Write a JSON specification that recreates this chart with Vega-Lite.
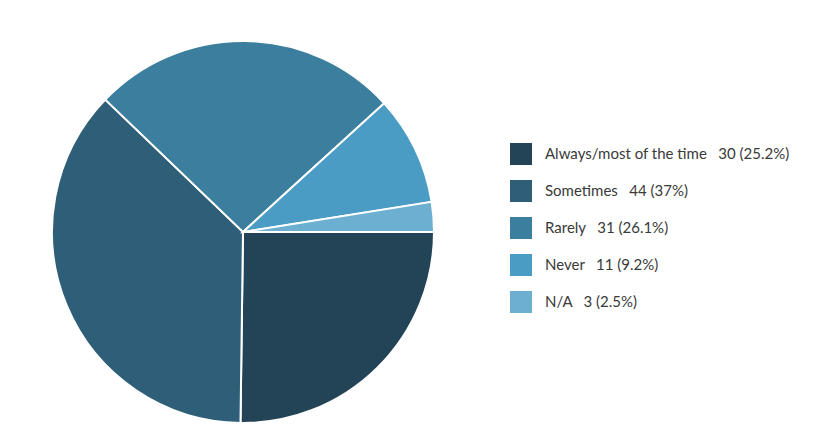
{
  "$schema": "https://vega.github.io/schema/vega-lite/v6.json",
  "width": 382,
  "height": 382,
  "padding": {"left": 52, "top": 41, "right": 402, "bottom": 13},
  "autosize": {"type": "none"},
  "background": "white",
  "config": {"view": {"stroke": null}, "font": "Lato"},
  "data": {
    "values": [
      {"category": "Always/most of the time", "count": 30, "pct": "25.2%", "rank": 1},
      {"category": "Sometimes", "count": 44, "pct": "37%", "rank": 2},
      {"category": "Rarely", "count": 31, "pct": "26.1%", "rank": 3},
      {"category": "Never", "count": 11, "pct": "9.2%", "rank": 4},
      {"category": "N/A", "count": 3, "pct": "2.5%", "rank": 5}
    ]
  },
  "transform": [
    {"calculate": "datum.category + '\u00a0\u00a0\u00a0' + datum.count + ' (' + datum.pct + ')'", "as": "legendLabel"}
  ],
  "mark": {"type": "arc", "stroke": "white", "strokeWidth": 2},
  "encoding": {
    "theta": {"field": "count", "type": "quantitative", "stack": true, "scale": {"range": [1.5708, 7.8540]}},
    "order": {"field": "rank", "type": "quantitative"},
    "color": {
      "field": "legendLabel",
      "type": "nominal",
      "sort": {"field": "rank"},
      "scale": {"range": ["#234357", "#2f5f78", "#3b7e9d", "#4b9cc5", "#6cafd1"]},
      "legend": {
        "title": null,
        "orient": "none",
        "legendX": 458,
        "legendY": 102,
        "padding": 0,
        "symbolType": "square",
        "symbolSize": 484,
        "symbolStrokeWidth": 0,
        "labelFont": "Lato",
        "labelFontSize": 15,
        "labelColor": "#3a3a3a",
        "labelOffset": 13,
        "rowPadding": 15,
        "labelLimit": 400
      }
    }
  }
}
